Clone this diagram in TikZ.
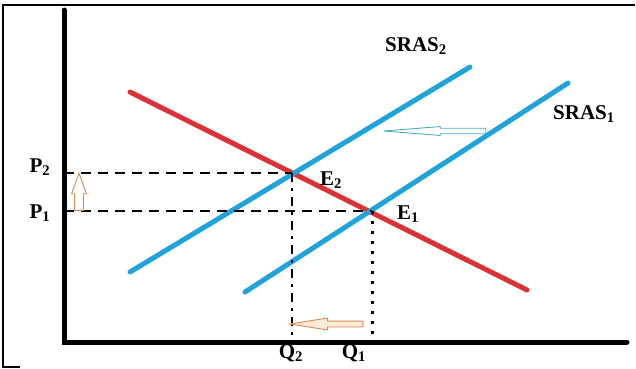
\documentclass[tikz,border=0pt]{standalone}
\usepackage{fontspec}
\setmainfont{Liberation Serif}
\usetikzlibrary{arrows.meta, positioning, shapes.arrows}
\definecolor{adred}{HTML}{DC3236}
\definecolor{asblue}{HTML}{1FA3DA}
\definecolor{shiftorange}{HTML}{D98A4E}
\definecolor{shiftteal}{HTML}{4FAFC0}
\definecolor{peach}{HTML}{FCEBD8}

\begin{document}
\begin{tikzpicture}[x=1pt, y=-1pt,
    axis/.style={line width=5pt, line cap=round},
    adline/.style={line width=5pt, color=adred, line cap=round},
    asline/.style={line width=5pt, color=asblue, line cap=round},
    guide/.style={line width=2.6pt, dash pattern=on 10pt off 7pt},
    guidedot/.style={line width=2.6pt, dash pattern=on 9pt off 6pt on 3pt off 6pt},
    guidesq/.style={line width=3pt, dash pattern=on 3pt off 7pt},
    lbl/.style={font=\fontsize{21}{24}\selectfont\bfseries, inner sep=1pt},
    shiftarr/.style={single arrow, draw=#1, line width=0.9pt,
                     minimum width=0pt, anchor=tip},
  ]
    \useasboundingbox (0,0) rectangle (636,368);

    % frame
    \draw[line width=1.5pt] (20,367) -- (3,367) -- (3,5) -- (635,5);

    % axes
    \coordinate (O)    at (64,342);
    \coordinate (ytop) at (64,10);
    \coordinate (xend) at (627,342);
    \draw[axis] (ytop) -- (O) -- (xend);

    % curves
    \coordinate (ad1) at (130,92);
    \coordinate (ad2) at (527,290);
    \coordinate (sa1) at (130,272);
    \coordinate (sa2) at (470,67);
    \coordinate (sb1) at (245,292);
    \coordinate (sb2) at (568,83);
    \draw[adline] (ad1) -- (ad2);
    \draw[asline] (sa1) -- (sa2);
    \draw[asline] (sb1) -- (sb2);

    % equilibria and guides
    \coordinate (e2) at (292,173);
    \coordinate (e1) at (372,211);
    \coordinate (p2) at (64,173);
    \coordinate (p1) at (64,211);
    \coordinate (q2) at (292,342);
    \coordinate (q1) at (372,342);
    \draw[guide] (p2) -- (e2);
    \draw[guide] (p1) -- (e1);
    \draw[guidedot] (e2) -- (q2);
    \draw[guidesq] (e1) -- (q1);

    % labels
    \node[lbl] (lp2) at (40,167) {P\textsubscript{2}};
    \node[lbl] (lp1) at (40,213) {P\textsubscript{1}};
    \node[lbl] (le2) at (331,180) {E\textsubscript{2}};
    \node[lbl] (le1) at (408,214) {E\textsubscript{1}};
    \node[lbl] (lq2) at (291,353) {Q\textsubscript{2}};
    \node[lbl] (lq1) at (354,353) {Q\textsubscript{1}};
    \node[lbl] (ls2) at (416,46)  {SRAS\textsubscript{2}};
    \node[lbl] (ls1) at (584,114) {SRAS\textsubscript{1}};

    % shift arrows
    \node[shiftarr=shiftorange, fill=white, inner sep=4pt, single arrow head extend=3pt,
          single arrow tip angle=40, minimum height=37pt,
          shape border rotate=90] (upshift) at (79,172) {};
    \node[shiftarr=shiftteal, fill=white, inner sep=2.3pt, single arrow head extend=1.7pt,
          single arrow tip angle=9, minimum height=102pt,
          shape border rotate=180] (asshift) at (378,131) {};
    \node[shiftarr=shiftorange, fill=peach, inner sep=2.5pt, single arrow head extend=3pt,
          single arrow tip angle=18, minimum height=73pt,
          shape border rotate=180] (qshift) at (287,324) {};
\end{tikzpicture}
\end{document}
